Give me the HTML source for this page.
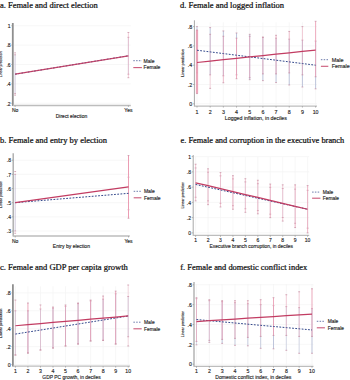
<!DOCTYPE html>
<html><head><meta charset="utf-8"><style>
html,body{margin:0;padding:0;background:#fff;width:350px;height:380px;overflow:hidden}
svg{display:block}
</style></head><body>
<svg width="350" height="380" viewBox="0 0 350 380">
<rect width="350" height="380" fill="#fff"/>
<text x="-0.1" y="7.6" font-family='"Liberation Serif", serif' font-size="8.5" fill="#111" stroke="#111" stroke-width="0.24">a. Female and direct election</text>
<line x1="13.8" y1="25.70" x2="130.8" y2="25.70" stroke="#f4f4f4" stroke-width="0.7"/>
<line x1="13.8" y1="45.10" x2="130.8" y2="45.10" stroke="#f4f4f4" stroke-width="0.7"/>
<line x1="13.8" y1="64.50" x2="130.8" y2="64.50" stroke="#f4f4f4" stroke-width="0.7"/>
<line x1="13.8" y1="83.90" x2="130.8" y2="83.90" stroke="#f4f4f4" stroke-width="0.7"/>
<line x1="13.8" y1="103.30" x2="130.8" y2="103.30" stroke="#f4f4f4" stroke-width="0.7"/>
<line x1="15.10" y1="54.80" x2="15.10" y2="93.60" stroke="#b4bcd6" stroke-width="0.6" opacity="1"/>
<line x1="14.20" y1="54.80" x2="16.00" y2="54.80" stroke="#c48a9f" stroke-width="0.7"/>
<line x1="14.20" y1="93.60" x2="16.00" y2="93.60" stroke="#c48a9f" stroke-width="0.7"/>
<line x1="128.40" y1="37.34" x2="128.40" y2="74.20" stroke="#b4bcd6" stroke-width="0.8" opacity="0.6"/>
<line x1="127.50" y1="37.34" x2="129.30" y2="37.34" stroke="#c48a9f" stroke-width="0.7"/>
<line x1="127.50" y1="74.20" x2="129.30" y2="74.20" stroke="#c48a9f" stroke-width="0.7"/>
<line x1="15.10" y1="52.86" x2="15.10" y2="95.15" stroke="#eb9db3" stroke-width="0.45" opacity="0.3"/>
<line x1="14.20" y1="52.86" x2="16.00" y2="52.86" stroke="#c48a9f" stroke-width="0.7"/>
<line x1="14.20" y1="95.15" x2="16.00" y2="95.15" stroke="#c48a9f" stroke-width="0.7"/>
<line x1="128.40" y1="32.49" x2="128.40" y2="77.69" stroke="#eb9db3" stroke-width="0.8" opacity="0.6"/>
<line x1="127.50" y1="32.49" x2="129.30" y2="32.49" stroke="#c48a9f" stroke-width="0.7"/>
<line x1="127.50" y1="77.69" x2="129.30" y2="77.69" stroke="#c48a9f" stroke-width="0.7"/>
<line x1="12.8" y1="23" x2="12.8" y2="106.0" stroke="#8f8f8f" stroke-width="1.8"/>
<line x1="12.8" y1="105.5" x2="130.8" y2="105.5" stroke="#bdbdbd" stroke-width="1.4"/>
<text x="10.600000000000001" y="27.90" text-anchor="end" font-family='"Liberation Sans", sans-serif' font-size="5" fill="#262626" stroke="#262626" stroke-width="0.14">1</text>
<line x1="11.3" y1="25.70" x2="12.8" y2="25.70" stroke="#8f8f8f" stroke-width="0.6"/>
<text x="10.600000000000001" y="47.30" text-anchor="end" font-family='"Liberation Sans", sans-serif' font-size="5" fill="#262626" stroke="#262626" stroke-width="0.14">.8</text>
<line x1="11.3" y1="45.10" x2="12.8" y2="45.10" stroke="#8f8f8f" stroke-width="0.6"/>
<text x="10.600000000000001" y="66.70" text-anchor="end" font-family='"Liberation Sans", sans-serif' font-size="5" fill="#262626" stroke="#262626" stroke-width="0.14">.6</text>
<line x1="11.3" y1="64.50" x2="12.8" y2="64.50" stroke="#8f8f8f" stroke-width="0.6"/>
<text x="10.600000000000001" y="86.10" text-anchor="end" font-family='"Liberation Sans", sans-serif' font-size="5" fill="#262626" stroke="#262626" stroke-width="0.14">.4</text>
<line x1="11.3" y1="83.90" x2="12.8" y2="83.90" stroke="#8f8f8f" stroke-width="0.6"/>
<text x="10.600000000000001" y="105.50" text-anchor="end" font-family='"Liberation Sans", sans-serif' font-size="5" fill="#262626" stroke="#262626" stroke-width="0.14">.2</text>
<line x1="11.3" y1="103.30" x2="12.8" y2="103.30" stroke="#8f8f8f" stroke-width="0.6"/>
<text x="15.10" y="112.2" text-anchor="middle" font-family='"Liberation Sans", sans-serif' font-size="5" fill="#262626" stroke="#262626" stroke-width="0.14">No</text>
<line x1="15.10" y1="105.5" x2="15.10" y2="107.0" stroke="#8f8f8f" stroke-width="0.6"/>
<text x="128.40" y="112.2" text-anchor="middle" font-family='"Liberation Sans", sans-serif' font-size="5" fill="#262626" stroke="#262626" stroke-width="0.14">Yes</text>
<line x1="128.40" y1="105.5" x2="128.40" y2="107.0" stroke="#8f8f8f" stroke-width="0.6"/>
<text x="71.5" y="118.3" text-anchor="middle" font-family='"Liberation Sans", sans-serif' font-size="4.96" fill="#262626" stroke="#262626" stroke-width="0.14">Direct election</text>
<text transform="translate(2.3,64.2) rotate(-90)" text-anchor="middle" font-family='"Liberation Sans", sans-serif' font-size="3.5" fill="#262626" stroke="#262626" stroke-width="0.14">Linear prediction</text>
<polyline points="15.10,74.20 128.40,55.77" fill="none" stroke="#34498c" stroke-width="1.0" stroke-dasharray="1.8,1.4"/>
<polyline points="15.10,74.20 128.40,55.77" fill="none" stroke="#c23c62" stroke-width="1.25" opacity="0.92"/>
<line x1="133.3" y1="60.7" x2="141.9" y2="60.7" stroke="#34498c" stroke-width="0.9" stroke-dasharray="1.5,1.3" opacity="0.8"/>
<text x="143.6" y="62.5" font-family='"Liberation Sans", sans-serif' font-size="5.05" fill="#262626" stroke="#262626" stroke-width="0.14">Male</text>
<line x1="133.3" y1="67.60000000000001" x2="141.9" y2="67.60000000000001" stroke="#c23c62" stroke-width="1.1" opacity="0.85"/>
<text x="143.6" y="69.4" font-family='"Liberation Sans", sans-serif' font-size="5.05" fill="#262626" stroke="#262626" stroke-width="0.14">Female</text>
<text x="-0.1" y="143" font-family='"Liberation Serif", serif' font-size="8.5" fill="#111" stroke="#111" stroke-width="0.24">b. Female and entry by election</text>
<line x1="14.2" y1="160.20" x2="129.8" y2="160.20" stroke="#f4f4f4" stroke-width="0.7"/>
<line x1="14.2" y1="174.36" x2="129.8" y2="174.36" stroke="#f4f4f4" stroke-width="0.7"/>
<line x1="14.2" y1="188.52" x2="129.8" y2="188.52" stroke="#f4f4f4" stroke-width="0.7"/>
<line x1="14.2" y1="202.68" x2="129.8" y2="202.68" stroke="#f4f4f4" stroke-width="0.7"/>
<line x1="14.2" y1="216.84" x2="129.8" y2="216.84" stroke="#f4f4f4" stroke-width="0.7"/>
<line x1="14.2" y1="231.00" x2="129.8" y2="231.00" stroke="#f4f4f4" stroke-width="0.7"/>
<line x1="15.20" y1="174.36" x2="15.20" y2="231.00" stroke="#b4bcd6" stroke-width="0.6" opacity="1.0"/>
<line x1="14.30" y1="174.36" x2="16.10" y2="174.36" stroke="#c48a9f" stroke-width="0.7"/>
<line x1="14.30" y1="231.00" x2="16.10" y2="231.00" stroke="#c48a9f" stroke-width="0.7"/>
<line x1="128.50" y1="177.19" x2="128.50" y2="209.76" stroke="#b4bcd6" stroke-width="1.0" opacity="1.0"/>
<line x1="127.60" y1="177.19" x2="129.40" y2="177.19" stroke="#c48a9f" stroke-width="0.7"/>
<line x1="127.60" y1="209.76" x2="129.40" y2="209.76" stroke="#c48a9f" stroke-width="0.7"/>
<line x1="15.20" y1="171.53" x2="15.20" y2="233.27" stroke="#eb9db3" stroke-width="0.45" opacity="0.3"/>
<line x1="14.30" y1="171.53" x2="16.10" y2="171.53" stroke="#c48a9f" stroke-width="0.7"/>
<line x1="14.30" y1="233.27" x2="16.10" y2="233.27" stroke="#c48a9f" stroke-width="0.7"/>
<line x1="128.50" y1="155.53" x2="128.50" y2="218.26" stroke="#eb9db3" stroke-width="1.0" opacity="1"/>
<line x1="127.60" y1="155.53" x2="129.40" y2="155.53" stroke="#c48a9f" stroke-width="0.7"/>
<line x1="127.60" y1="218.26" x2="129.40" y2="218.26" stroke="#c48a9f" stroke-width="0.7"/>
<line x1="13.2" y1="153.3" x2="13.2" y2="236.5" stroke="#ababab" stroke-width="1.4"/>
<line x1="13.2" y1="236.0" x2="129.8" y2="236.0" stroke="#bdbdbd" stroke-width="1.4"/>
<text x="11.0" y="162.40" text-anchor="end" font-family='"Liberation Sans", sans-serif' font-size="5" fill="#262626" stroke="#262626" stroke-width="0.14">.8</text>
<line x1="11.7" y1="160.20" x2="13.2" y2="160.20" stroke="#8f8f8f" stroke-width="0.6"/>
<text x="11.0" y="176.56" text-anchor="end" font-family='"Liberation Sans", sans-serif' font-size="5" fill="#262626" stroke="#262626" stroke-width="0.14">.7</text>
<line x1="11.7" y1="174.36" x2="13.2" y2="174.36" stroke="#8f8f8f" stroke-width="0.6"/>
<text x="11.0" y="190.72" text-anchor="end" font-family='"Liberation Sans", sans-serif' font-size="5" fill="#262626" stroke="#262626" stroke-width="0.14">.6</text>
<line x1="11.7" y1="188.52" x2="13.2" y2="188.52" stroke="#8f8f8f" stroke-width="0.6"/>
<text x="11.0" y="204.88" text-anchor="end" font-family='"Liberation Sans", sans-serif' font-size="5" fill="#262626" stroke="#262626" stroke-width="0.14">.5</text>
<line x1="11.7" y1="202.68" x2="13.2" y2="202.68" stroke="#8f8f8f" stroke-width="0.6"/>
<text x="11.0" y="219.04" text-anchor="end" font-family='"Liberation Sans", sans-serif' font-size="5" fill="#262626" stroke="#262626" stroke-width="0.14">.4</text>
<line x1="11.7" y1="216.84" x2="13.2" y2="216.84" stroke="#8f8f8f" stroke-width="0.6"/>
<text x="11.0" y="233.20" text-anchor="end" font-family='"Liberation Sans", sans-serif' font-size="5" fill="#262626" stroke="#262626" stroke-width="0.14">.3</text>
<line x1="11.7" y1="231.00" x2="13.2" y2="231.00" stroke="#8f8f8f" stroke-width="0.6"/>
<text x="15.20" y="243.0" text-anchor="middle" font-family='"Liberation Sans", sans-serif' font-size="5" fill="#262626" stroke="#262626" stroke-width="0.14">No</text>
<line x1="15.20" y1="236.0" x2="15.20" y2="237.5" stroke="#8f8f8f" stroke-width="0.6"/>
<text x="128.50" y="243.0" text-anchor="middle" font-family='"Liberation Sans", sans-serif' font-size="5" fill="#262626" stroke="#262626" stroke-width="0.14">Yes</text>
<line x1="128.50" y1="236.0" x2="128.50" y2="237.5" stroke="#8f8f8f" stroke-width="0.6"/>
<text x="71.4" y="248.3" text-anchor="middle" font-family='"Liberation Sans", sans-serif' font-size="5.02" fill="#262626" stroke="#262626" stroke-width="0.14">Entry by election</text>
<text transform="translate(2.3,194.7) rotate(-90)" text-anchor="middle" font-family='"Liberation Sans", sans-serif' font-size="3.65" fill="#262626" stroke="#262626" stroke-width="0.14">Linear prediction</text>
<polyline points="15.20,202.68 128.50,193.33" fill="none" stroke="#34498c" stroke-width="1.0" stroke-dasharray="1.8,1.4"/>
<polyline points="15.20,202.68 128.50,186.96" fill="none" stroke="#c23c62" stroke-width="1.25" opacity="1"/>
<line x1="133.7" y1="191.3" x2="141.4" y2="191.3" stroke="#34498c" stroke-width="0.9" stroke-dasharray="1.5,1.3" opacity="0.8"/>
<text x="143.9" y="193.10000000000002" font-family='"Liberation Sans", sans-serif' font-size="5.0" fill="#262626" stroke="#262626" stroke-width="0.14">Male</text>
<line x1="133.7" y1="197.8" x2="141.4" y2="197.8" stroke="#c23c62" stroke-width="1.1" opacity="0.85"/>
<text x="143.9" y="199.60000000000002" font-family='"Liberation Sans", sans-serif' font-size="5.0" fill="#262626" stroke="#262626" stroke-width="0.14">Female</text>
<text x="-0.1" y="269.5" font-family='"Liberation Serif", serif' font-size="8.5" fill="#111" stroke="#111" stroke-width="0.24">c. Female and GDP per capita growth</text>
<line x1="13.9" y1="292.90" x2="130" y2="292.90" stroke="#f4f4f4" stroke-width="0.7"/>
<line x1="13.9" y1="310.80" x2="130" y2="310.80" stroke="#f4f4f4" stroke-width="0.7"/>
<line x1="13.9" y1="328.70" x2="130" y2="328.70" stroke="#f4f4f4" stroke-width="0.7"/>
<line x1="13.9" y1="346.60" x2="130" y2="346.60" stroke="#f4f4f4" stroke-width="0.7"/>
<line x1="13.9" y1="364.50" x2="130" y2="364.50" stroke="#f4f4f4" stroke-width="0.7"/>
<line x1="15.40" y1="286.3" x2="15.40" y2="365.1" stroke="#f4f4f4" stroke-width="0.7"/>
<line x1="27.93" y1="286.3" x2="27.93" y2="365.1" stroke="#f4f4f4" stroke-width="0.7"/>
<line x1="40.47" y1="286.3" x2="40.47" y2="365.1" stroke="#f4f4f4" stroke-width="0.7"/>
<line x1="53.00" y1="286.3" x2="53.00" y2="365.1" stroke="#f4f4f4" stroke-width="0.7"/>
<line x1="65.53" y1="286.3" x2="65.53" y2="365.1" stroke="#f4f4f4" stroke-width="0.7"/>
<line x1="78.07" y1="286.3" x2="78.07" y2="365.1" stroke="#f4f4f4" stroke-width="0.7"/>
<line x1="90.60" y1="286.3" x2="90.60" y2="365.1" stroke="#f4f4f4" stroke-width="0.7"/>
<line x1="103.13" y1="286.3" x2="103.13" y2="365.1" stroke="#f4f4f4" stroke-width="0.7"/>
<line x1="115.67" y1="286.3" x2="115.67" y2="365.1" stroke="#f4f4f4" stroke-width="0.7"/>
<line x1="128.20" y1="286.3" x2="128.20" y2="365.1" stroke="#f4f4f4" stroke-width="0.7"/>
<line x1="15.40" y1="310.80" x2="15.40" y2="355.01" stroke="#b4bcd6" stroke-width="0.85" opacity="0.6"/>
<line x1="14.50" y1="310.80" x2="16.30" y2="310.80" stroke="#c48a9f" stroke-width="0.7"/>
<line x1="14.50" y1="355.01" x2="16.30" y2="355.01" stroke="#c48a9f" stroke-width="0.7"/>
<line x1="27.93" y1="310.80" x2="27.93" y2="353.04" stroke="#b4bcd6" stroke-width="0.85" opacity="1"/>
<line x1="27.03" y1="310.80" x2="28.83" y2="310.80" stroke="#c48a9f" stroke-width="0.7"/>
<line x1="27.03" y1="353.04" x2="28.83" y2="353.04" stroke="#c48a9f" stroke-width="0.7"/>
<line x1="40.47" y1="309.01" x2="40.47" y2="350.00" stroke="#b4bcd6" stroke-width="0.85" opacity="0.6"/>
<line x1="39.57" y1="309.01" x2="41.37" y2="309.01" stroke="#c48a9f" stroke-width="0.7"/>
<line x1="39.57" y1="350.00" x2="41.37" y2="350.00" stroke="#c48a9f" stroke-width="0.7"/>
<line x1="53.00" y1="308.12" x2="53.00" y2="348.03" stroke="#b4bcd6" stroke-width="0.85" opacity="1"/>
<line x1="52.10" y1="308.12" x2="53.90" y2="308.12" stroke="#c48a9f" stroke-width="0.7"/>
<line x1="52.10" y1="348.03" x2="53.90" y2="348.03" stroke="#c48a9f" stroke-width="0.7"/>
<line x1="65.53" y1="306.32" x2="65.53" y2="345.97" stroke="#b4bcd6" stroke-width="0.85" opacity="1"/>
<line x1="64.63" y1="306.32" x2="66.43" y2="306.32" stroke="#c48a9f" stroke-width="0.7"/>
<line x1="64.63" y1="345.97" x2="66.43" y2="345.97" stroke="#c48a9f" stroke-width="0.7"/>
<line x1="78.07" y1="303.64" x2="78.07" y2="344.00" stroke="#b4bcd6" stroke-width="0.85" opacity="1"/>
<line x1="77.17" y1="303.64" x2="78.97" y2="303.64" stroke="#c48a9f" stroke-width="0.7"/>
<line x1="77.17" y1="344.00" x2="78.97" y2="344.00" stroke="#c48a9f" stroke-width="0.7"/>
<line x1="90.60" y1="300.95" x2="90.60" y2="340.96" stroke="#b4bcd6" stroke-width="0.85" opacity="1"/>
<line x1="89.70" y1="300.95" x2="91.50" y2="300.95" stroke="#c48a9f" stroke-width="0.7"/>
<line x1="89.70" y1="340.96" x2="91.50" y2="340.96" stroke="#c48a9f" stroke-width="0.7"/>
<line x1="103.13" y1="299.16" x2="103.13" y2="340.33" stroke="#b4bcd6" stroke-width="0.85" opacity="1"/>
<line x1="102.23" y1="299.16" x2="104.03" y2="299.16" stroke="#c48a9f" stroke-width="0.7"/>
<line x1="102.23" y1="340.33" x2="104.03" y2="340.33" stroke="#c48a9f" stroke-width="0.7"/>
<line x1="115.67" y1="293.79" x2="115.67" y2="344.00" stroke="#b4bcd6" stroke-width="0.85" opacity="1"/>
<line x1="114.77" y1="293.79" x2="116.57" y2="293.79" stroke="#c48a9f" stroke-width="0.7"/>
<line x1="114.77" y1="344.00" x2="116.57" y2="344.00" stroke="#c48a9f" stroke-width="0.7"/>
<line x1="128.20" y1="296.48" x2="128.20" y2="336.75" stroke="#b4bcd6" stroke-width="0.85" opacity="0.6"/>
<line x1="127.30" y1="296.48" x2="129.10" y2="296.48" stroke="#c48a9f" stroke-width="0.7"/>
<line x1="127.30" y1="336.75" x2="129.10" y2="336.75" stroke="#c48a9f" stroke-width="0.7"/>
<line x1="15.40" y1="300.06" x2="15.40" y2="355.01" stroke="#eb9db3" stroke-width="0.85" opacity="0.35"/>
<line x1="14.50" y1="300.06" x2="16.30" y2="300.06" stroke="#c48a9f" stroke-width="0.7"/>
<line x1="14.50" y1="355.01" x2="16.30" y2="355.01" stroke="#c48a9f" stroke-width="0.7"/>
<line x1="27.93" y1="303.01" x2="27.93" y2="353.04" stroke="#eb9db3" stroke-width="0.85" opacity="1"/>
<line x1="27.03" y1="303.01" x2="28.83" y2="303.01" stroke="#c48a9f" stroke-width="0.7"/>
<line x1="27.03" y1="353.04" x2="28.83" y2="353.04" stroke="#c48a9f" stroke-width="0.7"/>
<line x1="40.47" y1="304.98" x2="40.47" y2="350.00" stroke="#eb9db3" stroke-width="0.85" opacity="0.45"/>
<line x1="39.57" y1="304.98" x2="41.37" y2="304.98" stroke="#c48a9f" stroke-width="0.7"/>
<line x1="39.57" y1="350.00" x2="41.37" y2="350.00" stroke="#c48a9f" stroke-width="0.7"/>
<line x1="53.00" y1="307.04" x2="53.00" y2="348.03" stroke="#eb9db3" stroke-width="0.85" opacity="0.8"/>
<line x1="52.10" y1="307.04" x2="53.90" y2="307.04" stroke="#c48a9f" stroke-width="0.7"/>
<line x1="52.10" y1="348.03" x2="53.90" y2="348.03" stroke="#c48a9f" stroke-width="0.7"/>
<line x1="65.53" y1="304.98" x2="65.53" y2="345.97" stroke="#eb9db3" stroke-width="0.85" opacity="0.8"/>
<line x1="64.63" y1="304.98" x2="66.43" y2="304.98" stroke="#c48a9f" stroke-width="0.7"/>
<line x1="64.63" y1="345.97" x2="66.43" y2="345.97" stroke="#c48a9f" stroke-width="0.7"/>
<line x1="78.07" y1="303.01" x2="78.07" y2="344.00" stroke="#eb9db3" stroke-width="0.85" opacity="0.8"/>
<line x1="77.17" y1="303.01" x2="78.97" y2="303.01" stroke="#c48a9f" stroke-width="0.7"/>
<line x1="77.17" y1="344.00" x2="78.97" y2="344.00" stroke="#c48a9f" stroke-width="0.7"/>
<line x1="90.60" y1="300.06" x2="90.60" y2="340.96" stroke="#eb9db3" stroke-width="0.85" opacity="1"/>
<line x1="89.70" y1="300.06" x2="91.50" y2="300.06" stroke="#c48a9f" stroke-width="0.7"/>
<line x1="89.70" y1="340.96" x2="91.50" y2="340.96" stroke="#c48a9f" stroke-width="0.7"/>
<line x1="103.13" y1="296.03" x2="103.13" y2="340.33" stroke="#eb9db3" stroke-width="0.85" opacity="0.8"/>
<line x1="102.23" y1="296.03" x2="104.03" y2="296.03" stroke="#c48a9f" stroke-width="0.7"/>
<line x1="102.23" y1="340.33" x2="104.03" y2="340.33" stroke="#c48a9f" stroke-width="0.7"/>
<line x1="115.67" y1="291.11" x2="115.67" y2="344.00" stroke="#eb9db3" stroke-width="0.85" opacity="1"/>
<line x1="114.77" y1="291.11" x2="116.57" y2="291.11" stroke="#c48a9f" stroke-width="0.7"/>
<line x1="114.77" y1="344.00" x2="116.57" y2="344.00" stroke="#c48a9f" stroke-width="0.7"/>
<line x1="128.20" y1="285.02" x2="128.20" y2="345.97" stroke="#eb9db3" stroke-width="0.85" opacity="0.4"/>
<line x1="127.30" y1="285.02" x2="129.10" y2="285.02" stroke="#c48a9f" stroke-width="0.7"/>
<line x1="127.30" y1="345.97" x2="129.10" y2="345.97" stroke="#c48a9f" stroke-width="0.7"/>
<line x1="12.9" y1="284.3" x2="12.9" y2="366.6" stroke="#8f8f8f" stroke-width="1.8"/>
<line x1="12.9" y1="366.1" x2="130" y2="366.1" stroke="#bdbdbd" stroke-width="1.2"/>
<text x="10.7" y="295.10" text-anchor="end" font-family='"Liberation Sans", sans-serif' font-size="5.2" fill="#262626" stroke="#262626" stroke-width="0.14">.8</text>
<line x1="11.4" y1="292.90" x2="12.9" y2="292.90" stroke="#8f8f8f" stroke-width="0.6"/>
<text x="10.7" y="313.00" text-anchor="end" font-family='"Liberation Sans", sans-serif' font-size="5.2" fill="#262626" stroke="#262626" stroke-width="0.14">.6</text>
<line x1="11.4" y1="310.80" x2="12.9" y2="310.80" stroke="#8f8f8f" stroke-width="0.6"/>
<text x="10.7" y="330.90" text-anchor="end" font-family='"Liberation Sans", sans-serif' font-size="5.2" fill="#262626" stroke="#262626" stroke-width="0.14">.4</text>
<line x1="11.4" y1="328.70" x2="12.9" y2="328.70" stroke="#8f8f8f" stroke-width="0.6"/>
<text x="10.7" y="348.80" text-anchor="end" font-family='"Liberation Sans", sans-serif' font-size="5.2" fill="#262626" stroke="#262626" stroke-width="0.14">.2</text>
<line x1="11.4" y1="346.60" x2="12.9" y2="346.60" stroke="#8f8f8f" stroke-width="0.6"/>
<text x="10.7" y="366.70" text-anchor="end" font-family='"Liberation Sans", sans-serif' font-size="5.2" fill="#262626" stroke="#262626" stroke-width="0.14">0</text>
<line x1="11.4" y1="364.50" x2="12.9" y2="364.50" stroke="#8f8f8f" stroke-width="0.6"/>
<text x="15.40" y="372.6" text-anchor="middle" font-family='"Liberation Sans", sans-serif' font-size="5.2" fill="#262626" stroke="#262626" stroke-width="0.14">1</text>
<line x1="15.40" y1="366.1" x2="15.40" y2="367.6" stroke="#8f8f8f" stroke-width="0.6"/>
<text x="27.93" y="372.6" text-anchor="middle" font-family='"Liberation Sans", sans-serif' font-size="5.2" fill="#262626" stroke="#262626" stroke-width="0.14">2</text>
<line x1="27.93" y1="366.1" x2="27.93" y2="367.6" stroke="#8f8f8f" stroke-width="0.6"/>
<text x="40.47" y="372.6" text-anchor="middle" font-family='"Liberation Sans", sans-serif' font-size="5.2" fill="#262626" stroke="#262626" stroke-width="0.14">3</text>
<line x1="40.47" y1="366.1" x2="40.47" y2="367.6" stroke="#8f8f8f" stroke-width="0.6"/>
<text x="53.00" y="372.6" text-anchor="middle" font-family='"Liberation Sans", sans-serif' font-size="5.2" fill="#262626" stroke="#262626" stroke-width="0.14">4</text>
<line x1="53.00" y1="366.1" x2="53.00" y2="367.6" stroke="#8f8f8f" stroke-width="0.6"/>
<text x="65.53" y="372.6" text-anchor="middle" font-family='"Liberation Sans", sans-serif' font-size="5.2" fill="#262626" stroke="#262626" stroke-width="0.14">5</text>
<line x1="65.53" y1="366.1" x2="65.53" y2="367.6" stroke="#8f8f8f" stroke-width="0.6"/>
<text x="78.07" y="372.6" text-anchor="middle" font-family='"Liberation Sans", sans-serif' font-size="5.2" fill="#262626" stroke="#262626" stroke-width="0.14">6</text>
<line x1="78.07" y1="366.1" x2="78.07" y2="367.6" stroke="#8f8f8f" stroke-width="0.6"/>
<text x="90.60" y="372.6" text-anchor="middle" font-family='"Liberation Sans", sans-serif' font-size="5.2" fill="#262626" stroke="#262626" stroke-width="0.14">7</text>
<line x1="90.60" y1="366.1" x2="90.60" y2="367.6" stroke="#8f8f8f" stroke-width="0.6"/>
<text x="103.13" y="372.6" text-anchor="middle" font-family='"Liberation Sans", sans-serif' font-size="5.2" fill="#262626" stroke="#262626" stroke-width="0.14">8</text>
<line x1="103.13" y1="366.1" x2="103.13" y2="367.6" stroke="#8f8f8f" stroke-width="0.6"/>
<text x="115.67" y="372.6" text-anchor="middle" font-family='"Liberation Sans", sans-serif' font-size="5.2" fill="#262626" stroke="#262626" stroke-width="0.14">9</text>
<line x1="115.67" y1="366.1" x2="115.67" y2="367.6" stroke="#8f8f8f" stroke-width="0.6"/>
<text x="128.20" y="372.6" text-anchor="middle" font-family='"Liberation Sans", sans-serif' font-size="5.2" fill="#262626" stroke="#262626" stroke-width="0.14">10</text>
<line x1="128.20" y1="366.1" x2="128.20" y2="367.6" stroke="#8f8f8f" stroke-width="0.6"/>
<text x="71.5" y="378.6" text-anchor="middle" font-family='"Liberation Sans", sans-serif' font-size="4.94" fill="#262626" stroke="#262626" stroke-width="0.14">GDP PC growth, in deciles</text>
<text transform="translate(2.2,323.4) rotate(-90)" text-anchor="middle" font-family='"Liberation Sans", sans-serif' font-size="4.05" fill="#262626" stroke="#262626" stroke-width="0.14">Linear prediction</text>
<polyline points="15.40,334.07 27.93,332.06 40.47,330.05 53.00,328.04 65.53,326.03 78.07,324.03 90.60,322.02 103.13,320.01 115.67,318.00 128.20,315.99" fill="none" stroke="#34498c" stroke-width="1.0" stroke-dasharray="1.8,1.4"/>
<polyline points="15.40,325.75 27.93,324.66 40.47,323.58 53.00,322.49 65.53,321.41 78.07,320.33 90.60,319.24 103.13,318.16 115.67,317.07 128.20,315.99" fill="none" stroke="#c23c62" stroke-width="1.25" opacity="1"/>
<line x1="133.4" y1="322.2" x2="141.7" y2="322.2" stroke="#34498c" stroke-width="0.9" stroke-dasharray="1.5,1.3" opacity="0.8"/>
<text x="144" y="324.0" font-family='"Liberation Sans", sans-serif' font-size="4.9" fill="#262626" stroke="#262626" stroke-width="0.14">Male</text>
<line x1="133.4" y1="328.8" x2="141.7" y2="328.8" stroke="#c23c62" stroke-width="1.1" opacity="0.85"/>
<text x="144" y="330.6" font-family='"Liberation Sans", sans-serif' font-size="4.9" fill="#262626" stroke="#262626" stroke-width="0.14">Female</text>
<text x="180.0" y="8.1" font-family='"Liberation Serif", serif' font-size="8.5" fill="#111" stroke="#111" stroke-width="0.24">d. Female and logged inflation</text>
<line x1="195.4" y1="26.60" x2="317" y2="26.60" stroke="#f4f4f4" stroke-width="0.7"/>
<line x1="195.4" y1="45.90" x2="317" y2="45.90" stroke="#f4f4f4" stroke-width="0.7"/>
<line x1="195.4" y1="65.20" x2="317" y2="65.20" stroke="#f4f4f4" stroke-width="0.7"/>
<line x1="195.4" y1="84.50" x2="317" y2="84.50" stroke="#f4f4f4" stroke-width="0.7"/>
<line x1="195.4" y1="103.80" x2="317" y2="103.80" stroke="#f4f4f4" stroke-width="0.7"/>
<line x1="197.00" y1="22.3" x2="197.00" y2="105.1" stroke="#f4f4f4" stroke-width="0.7"/>
<line x1="210.18" y1="22.3" x2="210.18" y2="105.1" stroke="#f4f4f4" stroke-width="0.7"/>
<line x1="223.36" y1="22.3" x2="223.36" y2="105.1" stroke="#f4f4f4" stroke-width="0.7"/>
<line x1="236.53" y1="22.3" x2="236.53" y2="105.1" stroke="#f4f4f4" stroke-width="0.7"/>
<line x1="249.71" y1="22.3" x2="249.71" y2="105.1" stroke="#f4f4f4" stroke-width="0.7"/>
<line x1="262.89" y1="22.3" x2="262.89" y2="105.1" stroke="#f4f4f4" stroke-width="0.7"/>
<line x1="276.07" y1="22.3" x2="276.07" y2="105.1" stroke="#f4f4f4" stroke-width="0.7"/>
<line x1="289.24" y1="22.3" x2="289.24" y2="105.1" stroke="#f4f4f4" stroke-width="0.7"/>
<line x1="302.42" y1="22.3" x2="302.42" y2="105.1" stroke="#f4f4f4" stroke-width="0.7"/>
<line x1="315.60" y1="22.3" x2="315.60" y2="105.1" stroke="#f4f4f4" stroke-width="0.7"/>
<line x1="197.00" y1="26.60" x2="197.00" y2="72.92" stroke="#b4bcd6" stroke-width="0.85" opacity="1.0"/>
<line x1="196.10" y1="26.60" x2="197.90" y2="26.60" stroke="#c48a9f" stroke-width="0.7"/>
<line x1="196.10" y1="72.92" x2="197.90" y2="72.92" stroke="#c48a9f" stroke-width="0.7"/>
<line x1="210.18" y1="27.57" x2="210.18" y2="74.85" stroke="#b4bcd6" stroke-width="0.85" opacity="1.0"/>
<line x1="209.28" y1="27.57" x2="211.08" y2="27.57" stroke="#c48a9f" stroke-width="0.7"/>
<line x1="209.28" y1="74.85" x2="211.08" y2="74.85" stroke="#c48a9f" stroke-width="0.7"/>
<line x1="223.36" y1="30.94" x2="223.36" y2="75.81" stroke="#b4bcd6" stroke-width="0.85" opacity="1.0"/>
<line x1="222.46" y1="30.94" x2="224.26" y2="30.94" stroke="#c48a9f" stroke-width="0.7"/>
<line x1="222.46" y1="75.81" x2="224.26" y2="75.81" stroke="#c48a9f" stroke-width="0.7"/>
<line x1="236.53" y1="32.97" x2="236.53" y2="74.85" stroke="#b4bcd6" stroke-width="0.85" opacity="1.0"/>
<line x1="235.63" y1="32.97" x2="237.43" y2="32.97" stroke="#c48a9f" stroke-width="0.7"/>
<line x1="235.63" y1="74.85" x2="237.43" y2="74.85" stroke="#c48a9f" stroke-width="0.7"/>
<line x1="249.71" y1="34.32" x2="249.71" y2="79.67" stroke="#b4bcd6" stroke-width="0.85" opacity="1.0"/>
<line x1="248.81" y1="34.32" x2="250.61" y2="34.32" stroke="#c48a9f" stroke-width="0.7"/>
<line x1="248.81" y1="79.67" x2="250.61" y2="79.67" stroke="#c48a9f" stroke-width="0.7"/>
<line x1="262.89" y1="37.22" x2="262.89" y2="80.64" stroke="#b4bcd6" stroke-width="0.85" opacity="1.0"/>
<line x1="261.99" y1="37.22" x2="263.79" y2="37.22" stroke="#c48a9f" stroke-width="0.7"/>
<line x1="261.99" y1="80.64" x2="263.79" y2="80.64" stroke="#c48a9f" stroke-width="0.7"/>
<line x1="276.07" y1="38.18" x2="276.07" y2="82.57" stroke="#b4bcd6" stroke-width="0.85" opacity="1.0"/>
<line x1="275.17" y1="38.18" x2="276.97" y2="38.18" stroke="#c48a9f" stroke-width="0.7"/>
<line x1="275.17" y1="82.57" x2="276.97" y2="82.57" stroke="#c48a9f" stroke-width="0.7"/>
<line x1="289.24" y1="39.14" x2="289.24" y2="84.98" stroke="#b4bcd6" stroke-width="0.85" opacity="1.0"/>
<line x1="288.34" y1="39.14" x2="290.14" y2="39.14" stroke="#c48a9f" stroke-width="0.7"/>
<line x1="288.34" y1="84.98" x2="290.14" y2="84.98" stroke="#c48a9f" stroke-width="0.7"/>
<line x1="302.42" y1="40.11" x2="302.42" y2="87.01" stroke="#b4bcd6" stroke-width="0.85" opacity="1.0"/>
<line x1="301.52" y1="40.11" x2="303.32" y2="40.11" stroke="#c48a9f" stroke-width="0.7"/>
<line x1="301.52" y1="87.01" x2="303.32" y2="87.01" stroke="#c48a9f" stroke-width="0.7"/>
<line x1="315.60" y1="41.08" x2="315.60" y2="88.84" stroke="#b4bcd6" stroke-width="0.85" opacity="1.0"/>
<line x1="314.70" y1="41.08" x2="316.50" y2="41.08" stroke="#c48a9f" stroke-width="0.7"/>
<line x1="314.70" y1="88.84" x2="316.50" y2="88.84" stroke="#c48a9f" stroke-width="0.7"/>
<line x1="197.00" y1="29.98" x2="197.00" y2="93.57" stroke="#eb9db3" stroke-width="2.2" opacity="0.9"/>
<line x1="196.10" y1="29.98" x2="197.90" y2="29.98" stroke="#c48a9f" stroke-width="0.7"/>
<line x1="196.10" y1="93.57" x2="197.90" y2="93.57" stroke="#c48a9f" stroke-width="0.7"/>
<line x1="210.18" y1="34.32" x2="210.18" y2="88.36" stroke="#eb9db3" stroke-width="0.85" opacity="0.45"/>
<line x1="209.28" y1="34.32" x2="211.08" y2="34.32" stroke="#c48a9f" stroke-width="0.7"/>
<line x1="209.28" y1="88.36" x2="211.08" y2="88.36" stroke="#c48a9f" stroke-width="0.7"/>
<line x1="223.36" y1="36.25" x2="223.36" y2="82.76" stroke="#eb9db3" stroke-width="0.85" opacity="0.75"/>
<line x1="222.46" y1="36.25" x2="224.26" y2="36.25" stroke="#c48a9f" stroke-width="0.7"/>
<line x1="222.46" y1="82.76" x2="224.26" y2="82.76" stroke="#c48a9f" stroke-width="0.7"/>
<line x1="236.53" y1="38.18" x2="236.53" y2="78.71" stroke="#eb9db3" stroke-width="0.85" opacity="1"/>
<line x1="235.63" y1="38.18" x2="237.43" y2="38.18" stroke="#c48a9f" stroke-width="0.7"/>
<line x1="235.63" y1="78.71" x2="237.43" y2="78.71" stroke="#c48a9f" stroke-width="0.7"/>
<line x1="249.71" y1="36.25" x2="249.71" y2="77.75" stroke="#eb9db3" stroke-width="0.85" opacity="0.75"/>
<line x1="248.81" y1="36.25" x2="250.61" y2="36.25" stroke="#c48a9f" stroke-width="0.7"/>
<line x1="248.81" y1="77.75" x2="250.61" y2="77.75" stroke="#c48a9f" stroke-width="0.7"/>
<line x1="262.89" y1="37.22" x2="262.89" y2="73.88" stroke="#eb9db3" stroke-width="0.85" opacity="0.75"/>
<line x1="261.99" y1="37.22" x2="263.79" y2="37.22" stroke="#c48a9f" stroke-width="0.7"/>
<line x1="261.99" y1="73.88" x2="263.79" y2="73.88" stroke="#c48a9f" stroke-width="0.7"/>
<line x1="276.07" y1="35.29" x2="276.07" y2="73.88" stroke="#eb9db3" stroke-width="0.85" opacity="0.85"/>
<line x1="275.17" y1="35.29" x2="276.97" y2="35.29" stroke="#c48a9f" stroke-width="0.7"/>
<line x1="275.17" y1="73.88" x2="276.97" y2="73.88" stroke="#c48a9f" stroke-width="0.7"/>
<line x1="289.24" y1="31.43" x2="289.24" y2="72.92" stroke="#eb9db3" stroke-width="0.85" opacity="0.75"/>
<line x1="288.34" y1="31.43" x2="290.14" y2="31.43" stroke="#c48a9f" stroke-width="0.7"/>
<line x1="288.34" y1="72.92" x2="290.14" y2="72.92" stroke="#c48a9f" stroke-width="0.7"/>
<line x1="302.42" y1="26.60" x2="302.42" y2="74.85" stroke="#eb9db3" stroke-width="0.85" opacity="0.6"/>
<line x1="301.52" y1="26.60" x2="303.32" y2="26.60" stroke="#c48a9f" stroke-width="0.7"/>
<line x1="301.52" y1="74.85" x2="303.32" y2="74.85" stroke="#c48a9f" stroke-width="0.7"/>
<line x1="315.60" y1="21.29" x2="315.60" y2="76.78" stroke="#eb9db3" stroke-width="0.85" opacity="1"/>
<line x1="314.70" y1="21.29" x2="316.50" y2="21.29" stroke="#c48a9f" stroke-width="0.7"/>
<line x1="314.70" y1="76.78" x2="316.50" y2="76.78" stroke="#c48a9f" stroke-width="0.7"/>
<line x1="194.4" y1="20.3" x2="194.4" y2="106.6" stroke="#a8a8a8" stroke-width="1.0"/>
<line x1="194.4" y1="106.1" x2="317" y2="106.1" stroke="#bdbdbd" stroke-width="1.2"/>
<text x="192.20000000000002" y="28.80" text-anchor="end" font-family='"Liberation Sans", sans-serif' font-size="5.3" fill="#262626" stroke="#262626" stroke-width="0.14">.8</text>
<line x1="192.9" y1="26.60" x2="194.4" y2="26.60" stroke="#8f8f8f" stroke-width="0.6"/>
<text x="192.20000000000002" y="48.10" text-anchor="end" font-family='"Liberation Sans", sans-serif' font-size="5.3" fill="#262626" stroke="#262626" stroke-width="0.14">.6</text>
<line x1="192.9" y1="45.90" x2="194.4" y2="45.90" stroke="#8f8f8f" stroke-width="0.6"/>
<text x="192.20000000000002" y="67.40" text-anchor="end" font-family='"Liberation Sans", sans-serif' font-size="5.3" fill="#262626" stroke="#262626" stroke-width="0.14">.4</text>
<line x1="192.9" y1="65.20" x2="194.4" y2="65.20" stroke="#8f8f8f" stroke-width="0.6"/>
<text x="192.20000000000002" y="86.70" text-anchor="end" font-family='"Liberation Sans", sans-serif' font-size="5.3" fill="#262626" stroke="#262626" stroke-width="0.14">.2</text>
<line x1="192.9" y1="84.50" x2="194.4" y2="84.50" stroke="#8f8f8f" stroke-width="0.6"/>
<text x="192.20000000000002" y="106.00" text-anchor="end" font-family='"Liberation Sans", sans-serif' font-size="5.3" fill="#262626" stroke="#262626" stroke-width="0.14">0</text>
<line x1="192.9" y1="103.80" x2="194.4" y2="103.80" stroke="#8f8f8f" stroke-width="0.6"/>
<text x="197.00" y="113.7" text-anchor="middle" font-family='"Liberation Sans", sans-serif' font-size="5.3" fill="#262626" stroke="#262626" stroke-width="0.14">1</text>
<line x1="197.00" y1="106.1" x2="197.00" y2="107.6" stroke="#8f8f8f" stroke-width="0.6"/>
<text x="210.18" y="113.7" text-anchor="middle" font-family='"Liberation Sans", sans-serif' font-size="5.3" fill="#262626" stroke="#262626" stroke-width="0.14">2</text>
<line x1="210.18" y1="106.1" x2="210.18" y2="107.6" stroke="#8f8f8f" stroke-width="0.6"/>
<text x="223.36" y="113.7" text-anchor="middle" font-family='"Liberation Sans", sans-serif' font-size="5.3" fill="#262626" stroke="#262626" stroke-width="0.14">3</text>
<line x1="223.36" y1="106.1" x2="223.36" y2="107.6" stroke="#8f8f8f" stroke-width="0.6"/>
<text x="236.53" y="113.7" text-anchor="middle" font-family='"Liberation Sans", sans-serif' font-size="5.3" fill="#262626" stroke="#262626" stroke-width="0.14">4</text>
<line x1="236.53" y1="106.1" x2="236.53" y2="107.6" stroke="#8f8f8f" stroke-width="0.6"/>
<text x="249.71" y="113.7" text-anchor="middle" font-family='"Liberation Sans", sans-serif' font-size="5.3" fill="#262626" stroke="#262626" stroke-width="0.14">5</text>
<line x1="249.71" y1="106.1" x2="249.71" y2="107.6" stroke="#8f8f8f" stroke-width="0.6"/>
<text x="262.89" y="113.7" text-anchor="middle" font-family='"Liberation Sans", sans-serif' font-size="5.3" fill="#262626" stroke="#262626" stroke-width="0.14">6</text>
<line x1="262.89" y1="106.1" x2="262.89" y2="107.6" stroke="#8f8f8f" stroke-width="0.6"/>
<text x="276.07" y="113.7" text-anchor="middle" font-family='"Liberation Sans", sans-serif' font-size="5.3" fill="#262626" stroke="#262626" stroke-width="0.14">7</text>
<line x1="276.07" y1="106.1" x2="276.07" y2="107.6" stroke="#8f8f8f" stroke-width="0.6"/>
<text x="289.24" y="113.7" text-anchor="middle" font-family='"Liberation Sans", sans-serif' font-size="5.3" fill="#262626" stroke="#262626" stroke-width="0.14">8</text>
<line x1="289.24" y1="106.1" x2="289.24" y2="107.6" stroke="#8f8f8f" stroke-width="0.6"/>
<text x="302.42" y="113.7" text-anchor="middle" font-family='"Liberation Sans", sans-serif' font-size="5.3" fill="#262626" stroke="#262626" stroke-width="0.14">9</text>
<line x1="302.42" y1="106.1" x2="302.42" y2="107.6" stroke="#8f8f8f" stroke-width="0.6"/>
<text x="315.60" y="113.7" text-anchor="middle" font-family='"Liberation Sans", sans-serif' font-size="5.3" fill="#262626" stroke="#262626" stroke-width="0.14">10</text>
<line x1="315.60" y1="106.1" x2="315.60" y2="107.6" stroke="#8f8f8f" stroke-width="0.6"/>
<text x="255.9" y="119.6" text-anchor="middle" font-family='"Liberation Sans", sans-serif' font-size="5.27" fill="#262626" stroke="#262626" stroke-width="0.14">Logged inflation, in deciles</text>
<text transform="translate(184.0,63) rotate(-90)" text-anchor="middle" font-family='"Liberation Sans", sans-serif' font-size="3.73" fill="#262626" stroke="#262626" stroke-width="0.14">Linear prediction</text>
<polyline points="197.00,50.24 210.18,51.90 223.36,53.57 236.53,55.23 249.71,56.89 262.89,58.55 276.07,60.21 289.24,61.88 302.42,63.54 315.60,65.20" fill="none" stroke="#34498c" stroke-width="1.0" stroke-dasharray="1.8,1.4"/>
<polyline points="197.00,62.50 210.18,61.11 223.36,59.73 236.53,58.35 249.71,56.97 262.89,55.58 276.07,54.20 289.24,52.82 302.42,51.43 315.60,50.05" fill="none" stroke="#c23c62" stroke-width="1.25" opacity="1"/>
<line x1="320.9" y1="59.7" x2="328.3" y2="59.7" stroke="#34498c" stroke-width="0.9" stroke-dasharray="1.5,1.3" opacity="0.8"/>
<text x="331.7" y="61.5" font-family='"Liberation Sans", sans-serif' font-size="5.45" fill="#262626" stroke="#262626" stroke-width="0.14">Male</text>
<line x1="320.9" y1="66.3" x2="328.3" y2="66.3" stroke="#c23c62" stroke-width="1.1" opacity="0.85"/>
<text x="331.7" y="68.1" font-family='"Liberation Sans", sans-serif' font-size="5.45" fill="#262626" stroke="#262626" stroke-width="0.14">Female</text>
<text x="180.5" y="142.9" font-family='"Liberation Serif", serif' font-size="8.38" fill="#111" stroke="#111" stroke-width="0.24">e. Female and corruption in the executive branch</text>
<line x1="194.2" y1="156.60" x2="309.2" y2="156.60" stroke="#f4f4f4" stroke-width="0.7"/>
<line x1="194.2" y1="171.86" x2="309.2" y2="171.86" stroke="#f4f4f4" stroke-width="0.7"/>
<line x1="194.2" y1="187.12" x2="309.2" y2="187.12" stroke="#f4f4f4" stroke-width="0.7"/>
<line x1="194.2" y1="202.38" x2="309.2" y2="202.38" stroke="#f4f4f4" stroke-width="0.7"/>
<line x1="194.2" y1="217.64" x2="309.2" y2="217.64" stroke="#f4f4f4" stroke-width="0.7"/>
<line x1="194.2" y1="232.90" x2="309.2" y2="232.90" stroke="#f4f4f4" stroke-width="0.7"/>
<line x1="195.60" y1="157" x2="195.60" y2="234.4" stroke="#f4f4f4" stroke-width="0.7"/>
<line x1="208.04" y1="157" x2="208.04" y2="234.4" stroke="#f4f4f4" stroke-width="0.7"/>
<line x1="220.49" y1="157" x2="220.49" y2="234.4" stroke="#f4f4f4" stroke-width="0.7"/>
<line x1="232.93" y1="157" x2="232.93" y2="234.4" stroke="#f4f4f4" stroke-width="0.7"/>
<line x1="245.38" y1="157" x2="245.38" y2="234.4" stroke="#f4f4f4" stroke-width="0.7"/>
<line x1="257.82" y1="157" x2="257.82" y2="234.4" stroke="#f4f4f4" stroke-width="0.7"/>
<line x1="270.27" y1="157" x2="270.27" y2="234.4" stroke="#f4f4f4" stroke-width="0.7"/>
<line x1="282.71" y1="157" x2="282.71" y2="234.4" stroke="#f4f4f4" stroke-width="0.7"/>
<line x1="295.16" y1="157" x2="295.16" y2="234.4" stroke="#f4f4f4" stroke-width="0.7"/>
<line x1="307.60" y1="157" x2="307.60" y2="234.4" stroke="#f4f4f4" stroke-width="0.7"/>
<line x1="195.60" y1="167.94" x2="195.60" y2="197.24" stroke="#b4bcd6" stroke-width="0.85" opacity="0.25"/>
<line x1="194.70" y1="167.94" x2="196.50" y2="167.94" stroke="#c48a9f" stroke-width="0.7"/>
<line x1="194.70" y1="197.24" x2="196.50" y2="197.24" stroke="#c48a9f" stroke-width="0.7"/>
<line x1="208.04" y1="172.19" x2="208.04" y2="200.88" stroke="#b4bcd6" stroke-width="0.85" opacity="0.25"/>
<line x1="207.14" y1="172.19" x2="208.94" y2="172.19" stroke="#c48a9f" stroke-width="0.7"/>
<line x1="207.14" y1="200.88" x2="208.94" y2="200.88" stroke="#c48a9f" stroke-width="0.7"/>
<line x1="220.49" y1="175.83" x2="220.49" y2="203.30" stroke="#b4bcd6" stroke-width="0.85" opacity="0.25"/>
<line x1="219.59" y1="175.83" x2="221.39" y2="175.83" stroke="#c48a9f" stroke-width="0.7"/>
<line x1="219.59" y1="203.30" x2="221.39" y2="203.30" stroke="#c48a9f" stroke-width="0.7"/>
<line x1="232.93" y1="178.86" x2="232.93" y2="205.72" stroke="#b4bcd6" stroke-width="0.85" opacity="0.25"/>
<line x1="232.03" y1="178.86" x2="233.83" y2="178.86" stroke="#c48a9f" stroke-width="0.7"/>
<line x1="232.03" y1="205.72" x2="233.83" y2="205.72" stroke="#c48a9f" stroke-width="0.7"/>
<line x1="245.38" y1="181.89" x2="245.38" y2="208.75" stroke="#b4bcd6" stroke-width="0.85" opacity="0.25"/>
<line x1="244.48" y1="181.89" x2="246.28" y2="181.89" stroke="#c48a9f" stroke-width="0.7"/>
<line x1="244.48" y1="208.75" x2="246.28" y2="208.75" stroke="#c48a9f" stroke-width="0.7"/>
<line x1="257.82" y1="183.70" x2="257.82" y2="210.56" stroke="#b4bcd6" stroke-width="0.85" opacity="0.25"/>
<line x1="256.92" y1="183.70" x2="258.72" y2="183.70" stroke="#c48a9f" stroke-width="0.7"/>
<line x1="256.92" y1="210.56" x2="258.72" y2="210.56" stroke="#c48a9f" stroke-width="0.7"/>
<line x1="270.27" y1="187.34" x2="270.27" y2="214.20" stroke="#b4bcd6" stroke-width="0.85" opacity="0.25"/>
<line x1="269.37" y1="187.34" x2="271.17" y2="187.34" stroke="#c48a9f" stroke-width="0.7"/>
<line x1="269.37" y1="214.20" x2="271.17" y2="214.20" stroke="#c48a9f" stroke-width="0.7"/>
<line x1="282.71" y1="188.54" x2="282.71" y2="217.53" stroke="#b4bcd6" stroke-width="0.85" opacity="0.25"/>
<line x1="281.81" y1="188.54" x2="283.61" y2="188.54" stroke="#c48a9f" stroke-width="0.7"/>
<line x1="281.81" y1="217.53" x2="283.61" y2="217.53" stroke="#c48a9f" stroke-width="0.7"/>
<line x1="295.16" y1="189.13" x2="295.16" y2="223.31" stroke="#b4bcd6" stroke-width="0.85" opacity="0.25"/>
<line x1="294.26" y1="189.13" x2="296.06" y2="189.13" stroke="#c48a9f" stroke-width="0.7"/>
<line x1="294.26" y1="223.31" x2="296.06" y2="223.31" stroke="#c48a9f" stroke-width="0.7"/>
<line x1="307.60" y1="190.32" x2="307.60" y2="228.17" stroke="#b4bcd6" stroke-width="0.85" opacity="0.25"/>
<line x1="306.70" y1="190.32" x2="308.50" y2="190.32" stroke="#c48a9f" stroke-width="0.7"/>
<line x1="306.70" y1="228.17" x2="308.50" y2="228.17" stroke="#c48a9f" stroke-width="0.7"/>
<line x1="195.60" y1="164.23" x2="195.60" y2="200.85" stroke="#eb9db3" stroke-width="0.85" opacity="0.6"/>
<line x1="194.70" y1="164.23" x2="196.50" y2="164.23" stroke="#c48a9f" stroke-width="0.7"/>
<line x1="194.70" y1="200.85" x2="196.50" y2="200.85" stroke="#c48a9f" stroke-width="0.7"/>
<line x1="208.04" y1="168.81" x2="208.04" y2="204.67" stroke="#eb9db3" stroke-width="0.85" opacity="0.75"/>
<line x1="207.14" y1="168.81" x2="208.94" y2="168.81" stroke="#c48a9f" stroke-width="0.7"/>
<line x1="207.14" y1="204.67" x2="208.94" y2="204.67" stroke="#c48a9f" stroke-width="0.7"/>
<line x1="220.49" y1="172.62" x2="220.49" y2="206.96" stroke="#eb9db3" stroke-width="0.85" opacity="0.6"/>
<line x1="219.59" y1="172.62" x2="221.39" y2="172.62" stroke="#c48a9f" stroke-width="0.7"/>
<line x1="219.59" y1="206.96" x2="221.39" y2="206.96" stroke="#c48a9f" stroke-width="0.7"/>
<line x1="232.93" y1="175.68" x2="232.93" y2="209.25" stroke="#eb9db3" stroke-width="0.85" opacity="0.85"/>
<line x1="232.03" y1="175.68" x2="233.83" y2="175.68" stroke="#c48a9f" stroke-width="0.7"/>
<line x1="232.03" y1="209.25" x2="233.83" y2="209.25" stroke="#c48a9f" stroke-width="0.7"/>
<line x1="245.38" y1="178.73" x2="245.38" y2="212.30" stroke="#eb9db3" stroke-width="0.85" opacity="0.6"/>
<line x1="244.48" y1="178.73" x2="246.28" y2="178.73" stroke="#c48a9f" stroke-width="0.7"/>
<line x1="244.48" y1="212.30" x2="246.28" y2="212.30" stroke="#c48a9f" stroke-width="0.7"/>
<line x1="257.82" y1="180.25" x2="257.82" y2="213.82" stroke="#eb9db3" stroke-width="0.85" opacity="0.75"/>
<line x1="256.92" y1="180.25" x2="258.72" y2="180.25" stroke="#c48a9f" stroke-width="0.7"/>
<line x1="256.92" y1="213.82" x2="258.72" y2="213.82" stroke="#c48a9f" stroke-width="0.7"/>
<line x1="270.27" y1="184.07" x2="270.27" y2="217.64" stroke="#eb9db3" stroke-width="0.85" opacity="0.85"/>
<line x1="269.37" y1="184.07" x2="271.17" y2="184.07" stroke="#c48a9f" stroke-width="0.7"/>
<line x1="269.37" y1="217.64" x2="271.17" y2="217.64" stroke="#c48a9f" stroke-width="0.7"/>
<line x1="282.71" y1="184.83" x2="282.71" y2="221.07" stroke="#eb9db3" stroke-width="0.85" opacity="0.6"/>
<line x1="281.81" y1="184.83" x2="283.61" y2="184.83" stroke="#c48a9f" stroke-width="0.7"/>
<line x1="281.81" y1="221.07" x2="283.61" y2="221.07" stroke="#c48a9f" stroke-width="0.7"/>
<line x1="295.16" y1="184.83" x2="295.16" y2="227.56" stroke="#eb9db3" stroke-width="0.85" opacity="0.85"/>
<line x1="294.26" y1="184.83" x2="296.06" y2="184.83" stroke="#c48a9f" stroke-width="0.7"/>
<line x1="294.26" y1="227.56" x2="296.06" y2="227.56" stroke="#c48a9f" stroke-width="0.7"/>
<line x1="307.60" y1="185.59" x2="307.60" y2="232.90" stroke="#eb9db3" stroke-width="0.85" opacity="0.85"/>
<line x1="306.70" y1="185.59" x2="308.50" y2="185.59" stroke="#c48a9f" stroke-width="0.7"/>
<line x1="306.70" y1="232.90" x2="308.50" y2="232.90" stroke="#c48a9f" stroke-width="0.7"/>
<line x1="193.2" y1="155" x2="193.2" y2="235.9" stroke="#a8a8a8" stroke-width="1.0"/>
<line x1="193.2" y1="235.4" x2="309.2" y2="235.4" stroke="#bdbdbd" stroke-width="1.2"/>
<text x="191.0" y="158.80" text-anchor="end" font-family='"Liberation Sans", sans-serif' font-size="5.0" fill="#262626" stroke="#262626" stroke-width="0.14">1</text>
<line x1="191.7" y1="156.60" x2="193.2" y2="156.60" stroke="#8f8f8f" stroke-width="0.6"/>
<text x="191.0" y="174.06" text-anchor="end" font-family='"Liberation Sans", sans-serif' font-size="5.0" fill="#262626" stroke="#262626" stroke-width="0.14">.8</text>
<line x1="191.7" y1="171.86" x2="193.2" y2="171.86" stroke="#8f8f8f" stroke-width="0.6"/>
<text x="191.0" y="189.32" text-anchor="end" font-family='"Liberation Sans", sans-serif' font-size="5.0" fill="#262626" stroke="#262626" stroke-width="0.14">.6</text>
<line x1="191.7" y1="187.12" x2="193.2" y2="187.12" stroke="#8f8f8f" stroke-width="0.6"/>
<text x="191.0" y="204.58" text-anchor="end" font-family='"Liberation Sans", sans-serif' font-size="5.0" fill="#262626" stroke="#262626" stroke-width="0.14">.4</text>
<line x1="191.7" y1="202.38" x2="193.2" y2="202.38" stroke="#8f8f8f" stroke-width="0.6"/>
<text x="191.0" y="219.84" text-anchor="end" font-family='"Liberation Sans", sans-serif' font-size="5.0" fill="#262626" stroke="#262626" stroke-width="0.14">.2</text>
<line x1="191.7" y1="217.64" x2="193.2" y2="217.64" stroke="#8f8f8f" stroke-width="0.6"/>
<text x="191.0" y="235.10" text-anchor="end" font-family='"Liberation Sans", sans-serif' font-size="5.0" fill="#262626" stroke="#262626" stroke-width="0.14">0</text>
<line x1="191.7" y1="232.90" x2="193.2" y2="232.90" stroke="#8f8f8f" stroke-width="0.6"/>
<text x="195.60" y="241.8" text-anchor="middle" font-family='"Liberation Sans", sans-serif' font-size="5.0" fill="#262626" stroke="#262626" stroke-width="0.14">1</text>
<line x1="195.60" y1="235.4" x2="195.60" y2="236.9" stroke="#8f8f8f" stroke-width="0.6"/>
<text x="208.04" y="241.8" text-anchor="middle" font-family='"Liberation Sans", sans-serif' font-size="5.0" fill="#262626" stroke="#262626" stroke-width="0.14">2</text>
<line x1="208.04" y1="235.4" x2="208.04" y2="236.9" stroke="#8f8f8f" stroke-width="0.6"/>
<text x="220.49" y="241.8" text-anchor="middle" font-family='"Liberation Sans", sans-serif' font-size="5.0" fill="#262626" stroke="#262626" stroke-width="0.14">3</text>
<line x1="220.49" y1="235.4" x2="220.49" y2="236.9" stroke="#8f8f8f" stroke-width="0.6"/>
<text x="232.93" y="241.8" text-anchor="middle" font-family='"Liberation Sans", sans-serif' font-size="5.0" fill="#262626" stroke="#262626" stroke-width="0.14">4</text>
<line x1="232.93" y1="235.4" x2="232.93" y2="236.9" stroke="#8f8f8f" stroke-width="0.6"/>
<text x="245.38" y="241.8" text-anchor="middle" font-family='"Liberation Sans", sans-serif' font-size="5.0" fill="#262626" stroke="#262626" stroke-width="0.14">5</text>
<line x1="245.38" y1="235.4" x2="245.38" y2="236.9" stroke="#8f8f8f" stroke-width="0.6"/>
<text x="257.82" y="241.8" text-anchor="middle" font-family='"Liberation Sans", sans-serif' font-size="5.0" fill="#262626" stroke="#262626" stroke-width="0.14">6</text>
<line x1="257.82" y1="235.4" x2="257.82" y2="236.9" stroke="#8f8f8f" stroke-width="0.6"/>
<text x="270.27" y="241.8" text-anchor="middle" font-family='"Liberation Sans", sans-serif' font-size="5.0" fill="#262626" stroke="#262626" stroke-width="0.14">7</text>
<line x1="270.27" y1="235.4" x2="270.27" y2="236.9" stroke="#8f8f8f" stroke-width="0.6"/>
<text x="282.71" y="241.8" text-anchor="middle" font-family='"Liberation Sans", sans-serif' font-size="5.0" fill="#262626" stroke="#262626" stroke-width="0.14">8</text>
<line x1="282.71" y1="235.4" x2="282.71" y2="236.9" stroke="#8f8f8f" stroke-width="0.6"/>
<text x="295.16" y="241.8" text-anchor="middle" font-family='"Liberation Sans", sans-serif' font-size="5.0" fill="#262626" stroke="#262626" stroke-width="0.14">9</text>
<line x1="295.16" y1="235.4" x2="295.16" y2="236.9" stroke="#8f8f8f" stroke-width="0.6"/>
<text x="307.60" y="241.8" text-anchor="middle" font-family='"Liberation Sans", sans-serif' font-size="5.0" fill="#262626" stroke="#262626" stroke-width="0.14">10</text>
<line x1="307.60" y1="235.4" x2="307.60" y2="236.9" stroke="#8f8f8f" stroke-width="0.6"/>
<text x="251.3" y="248.1" text-anchor="middle" font-family='"Liberation Sans", sans-serif' font-size="4.89" fill="#262626" stroke="#262626" stroke-width="0.14">Executive branch corruption, in deciles</text>
<text transform="translate(184.0,195.2) rotate(-90)" text-anchor="middle" font-family='"Liberation Sans", sans-serif' font-size="3.6" fill="#262626" stroke="#262626" stroke-width="0.14">Linear prediction</text>
<polyline points="195.60,184.45 208.04,187.20 220.49,189.96 232.93,192.72 245.38,195.47 257.82,198.23 270.27,200.98 282.71,203.74 295.16,206.49 307.60,209.25" fill="none" stroke="#34498c" stroke-width="1.0" stroke-dasharray="1.8,1.4"/>
<polyline points="195.60,182.77 208.04,185.71 220.49,188.65 232.93,191.60 245.38,194.54 257.82,197.48 270.27,200.42 282.71,203.36 295.16,206.31 307.60,209.25" fill="none" stroke="#c23c62" stroke-width="1.25" opacity="1"/>
<line x1="312.1" y1="192.1" x2="320.4" y2="192.1" stroke="#34498c" stroke-width="0.9" stroke-dasharray="1.5,1.3" opacity="0.8"/>
<text x="322.7" y="193.9" font-family='"Liberation Sans", sans-serif' font-size="4.92" fill="#262626" stroke="#262626" stroke-width="0.14">Male</text>
<line x1="312.1" y1="198.2" x2="320.4" y2="198.2" stroke="#c23c62" stroke-width="1.1" opacity="0.85"/>
<text x="322.7" y="200.0" font-family='"Liberation Sans", sans-serif' font-size="4.92" fill="#262626" stroke="#262626" stroke-width="0.14">Female</text>
<text x="180.3" y="269.7" font-family='"Liberation Serif", serif' font-size="8.42" fill="#111" stroke="#111" stroke-width="0.24">f. Female and domestic conflict index</text>
<line x1="195.0" y1="284.80" x2="313.5" y2="284.80" stroke="#f4f4f4" stroke-width="0.7"/>
<line x1="195.0" y1="304.65" x2="313.5" y2="304.65" stroke="#f4f4f4" stroke-width="0.7"/>
<line x1="195.0" y1="324.50" x2="313.5" y2="324.50" stroke="#f4f4f4" stroke-width="0.7"/>
<line x1="195.0" y1="344.35" x2="313.5" y2="344.35" stroke="#f4f4f4" stroke-width="0.7"/>
<line x1="195.0" y1="364.20" x2="313.5" y2="364.20" stroke="#f4f4f4" stroke-width="0.7"/>
<line x1="196.50" y1="284" x2="196.50" y2="365.3" stroke="#f4f4f4" stroke-width="0.7"/>
<line x1="209.33" y1="284" x2="209.33" y2="365.3" stroke="#f4f4f4" stroke-width="0.7"/>
<line x1="222.17" y1="284" x2="222.17" y2="365.3" stroke="#f4f4f4" stroke-width="0.7"/>
<line x1="235.00" y1="284" x2="235.00" y2="365.3" stroke="#f4f4f4" stroke-width="0.7"/>
<line x1="247.83" y1="284" x2="247.83" y2="365.3" stroke="#f4f4f4" stroke-width="0.7"/>
<line x1="260.67" y1="284" x2="260.67" y2="365.3" stroke="#f4f4f4" stroke-width="0.7"/>
<line x1="273.50" y1="284" x2="273.50" y2="365.3" stroke="#f4f4f4" stroke-width="0.7"/>
<line x1="286.33" y1="284" x2="286.33" y2="365.3" stroke="#f4f4f4" stroke-width="0.7"/>
<line x1="299.17" y1="284" x2="299.17" y2="365.3" stroke="#f4f4f4" stroke-width="0.7"/>
<line x1="312.00" y1="284" x2="312.00" y2="365.3" stroke="#f4f4f4" stroke-width="0.7"/>
<line x1="196.50" y1="298.69" x2="196.50" y2="344.85" stroke="#b4bcd6" stroke-width="0.85" opacity="0.6"/>
<line x1="195.60" y1="298.69" x2="197.40" y2="298.69" stroke="#c48a9f" stroke-width="0.7"/>
<line x1="195.60" y1="344.85" x2="197.40" y2="344.85" stroke="#c48a9f" stroke-width="0.7"/>
<line x1="209.33" y1="300.68" x2="209.33" y2="342.37" stroke="#b4bcd6" stroke-width="0.85" opacity="0.6"/>
<line x1="208.43" y1="300.68" x2="210.23" y2="300.68" stroke="#c48a9f" stroke-width="0.7"/>
<line x1="208.43" y1="342.37" x2="210.23" y2="342.37" stroke="#c48a9f" stroke-width="0.7"/>
<line x1="222.17" y1="301.67" x2="222.17" y2="343.36" stroke="#b4bcd6" stroke-width="0.85" opacity="1"/>
<line x1="221.27" y1="301.67" x2="223.07" y2="301.67" stroke="#c48a9f" stroke-width="0.7"/>
<line x1="221.27" y1="343.36" x2="223.07" y2="343.36" stroke="#c48a9f" stroke-width="0.7"/>
<line x1="235.00" y1="302.67" x2="235.00" y2="345.34" stroke="#b4bcd6" stroke-width="0.85" opacity="0.8"/>
<line x1="234.10" y1="302.67" x2="235.90" y2="302.67" stroke="#c48a9f" stroke-width="0.7"/>
<line x1="234.10" y1="345.34" x2="235.90" y2="345.34" stroke="#c48a9f" stroke-width="0.7"/>
<line x1="247.83" y1="303.66" x2="247.83" y2="345.84" stroke="#b4bcd6" stroke-width="0.85" opacity="0.8"/>
<line x1="246.93" y1="303.66" x2="248.73" y2="303.66" stroke="#c48a9f" stroke-width="0.7"/>
<line x1="246.93" y1="345.84" x2="248.73" y2="345.84" stroke="#c48a9f" stroke-width="0.7"/>
<line x1="260.67" y1="304.65" x2="260.67" y2="348.32" stroke="#b4bcd6" stroke-width="0.85" opacity="0.8"/>
<line x1="259.77" y1="304.65" x2="261.57" y2="304.65" stroke="#c48a9f" stroke-width="0.7"/>
<line x1="259.77" y1="348.32" x2="261.57" y2="348.32" stroke="#c48a9f" stroke-width="0.7"/>
<line x1="273.50" y1="305.64" x2="273.50" y2="348.82" stroke="#b4bcd6" stroke-width="0.85" opacity="1"/>
<line x1="272.60" y1="305.64" x2="274.40" y2="305.64" stroke="#c48a9f" stroke-width="0.7"/>
<line x1="272.60" y1="348.82" x2="274.40" y2="348.82" stroke="#c48a9f" stroke-width="0.7"/>
<line x1="286.33" y1="306.63" x2="286.33" y2="350.31" stroke="#b4bcd6" stroke-width="0.85" opacity="0.6"/>
<line x1="285.43" y1="306.63" x2="287.23" y2="306.63" stroke="#c48a9f" stroke-width="0.7"/>
<line x1="285.43" y1="350.31" x2="287.23" y2="350.31" stroke="#c48a9f" stroke-width="0.7"/>
<line x1="299.17" y1="307.63" x2="299.17" y2="353.28" stroke="#b4bcd6" stroke-width="0.85" opacity="0.6"/>
<line x1="298.27" y1="307.63" x2="300.07" y2="307.63" stroke="#c48a9f" stroke-width="0.7"/>
<line x1="298.27" y1="353.28" x2="300.07" y2="353.28" stroke="#c48a9f" stroke-width="0.7"/>
<line x1="312.00" y1="308.62" x2="312.00" y2="353.28" stroke="#b4bcd6" stroke-width="0.85" opacity="1"/>
<line x1="311.10" y1="308.62" x2="312.90" y2="308.62" stroke="#c48a9f" stroke-width="0.7"/>
<line x1="311.10" y1="353.28" x2="312.90" y2="353.28" stroke="#c48a9f" stroke-width="0.7"/>
<line x1="196.50" y1="297.70" x2="196.50" y2="341.37" stroke="#eb9db3" stroke-width="0.85" opacity="0.7"/>
<line x1="195.60" y1="297.70" x2="197.40" y2="297.70" stroke="#c48a9f" stroke-width="0.7"/>
<line x1="195.60" y1="341.37" x2="197.40" y2="341.37" stroke="#c48a9f" stroke-width="0.7"/>
<line x1="209.33" y1="299.69" x2="209.33" y2="340.38" stroke="#eb9db3" stroke-width="0.85" opacity="0.5"/>
<line x1="208.43" y1="299.69" x2="210.23" y2="299.69" stroke="#c48a9f" stroke-width="0.7"/>
<line x1="208.43" y1="340.38" x2="210.23" y2="340.38" stroke="#c48a9f" stroke-width="0.7"/>
<line x1="222.17" y1="300.68" x2="222.17" y2="339.39" stroke="#eb9db3" stroke-width="0.85" opacity="1"/>
<line x1="221.27" y1="300.68" x2="223.07" y2="300.68" stroke="#c48a9f" stroke-width="0.7"/>
<line x1="221.27" y1="339.39" x2="223.07" y2="339.39" stroke="#c48a9f" stroke-width="0.7"/>
<line x1="235.00" y1="300.68" x2="235.00" y2="338.39" stroke="#eb9db3" stroke-width="0.85" opacity="0.8"/>
<line x1="234.10" y1="300.68" x2="235.90" y2="300.68" stroke="#c48a9f" stroke-width="0.7"/>
<line x1="234.10" y1="338.39" x2="235.90" y2="338.39" stroke="#c48a9f" stroke-width="0.7"/>
<line x1="247.83" y1="300.68" x2="247.83" y2="337.40" stroke="#eb9db3" stroke-width="0.85" opacity="0.8"/>
<line x1="246.93" y1="300.68" x2="248.73" y2="300.68" stroke="#c48a9f" stroke-width="0.7"/>
<line x1="246.93" y1="337.40" x2="248.73" y2="337.40" stroke="#c48a9f" stroke-width="0.7"/>
<line x1="260.67" y1="299.69" x2="260.67" y2="336.41" stroke="#eb9db3" stroke-width="0.85" opacity="0.8"/>
<line x1="259.77" y1="299.69" x2="261.57" y2="299.69" stroke="#c48a9f" stroke-width="0.7"/>
<line x1="259.77" y1="336.41" x2="261.57" y2="336.41" stroke="#c48a9f" stroke-width="0.7"/>
<line x1="273.50" y1="297.70" x2="273.50" y2="335.42" stroke="#eb9db3" stroke-width="0.85" opacity="1"/>
<line x1="272.60" y1="297.70" x2="274.40" y2="297.70" stroke="#c48a9f" stroke-width="0.7"/>
<line x1="272.60" y1="335.42" x2="274.40" y2="335.42" stroke="#c48a9f" stroke-width="0.7"/>
<line x1="286.33" y1="294.73" x2="286.33" y2="335.42" stroke="#eb9db3" stroke-width="0.85" opacity="0.55"/>
<line x1="285.43" y1="294.73" x2="287.23" y2="294.73" stroke="#c48a9f" stroke-width="0.7"/>
<line x1="285.43" y1="335.42" x2="287.23" y2="335.42" stroke="#c48a9f" stroke-width="0.7"/>
<line x1="299.17" y1="291.75" x2="299.17" y2="336.41" stroke="#eb9db3" stroke-width="0.85" opacity="0.55"/>
<line x1="298.27" y1="291.75" x2="300.07" y2="291.75" stroke="#c48a9f" stroke-width="0.7"/>
<line x1="298.27" y1="336.41" x2="300.07" y2="336.41" stroke="#c48a9f" stroke-width="0.7"/>
<line x1="312.00" y1="288.77" x2="312.00" y2="336.41" stroke="#eb9db3" stroke-width="0.85" opacity="1"/>
<line x1="311.10" y1="288.77" x2="312.90" y2="288.77" stroke="#c48a9f" stroke-width="0.7"/>
<line x1="311.10" y1="336.41" x2="312.90" y2="336.41" stroke="#c48a9f" stroke-width="0.7"/>
<line x1="194.0" y1="282" x2="194.0" y2="366.8" stroke="#b4b4b4" stroke-width="1.5"/>
<line x1="194.0" y1="366.3" x2="313.5" y2="366.3" stroke="#bdbdbd" stroke-width="1.2"/>
<text x="191.8" y="287.00" text-anchor="end" font-family='"Liberation Sans", sans-serif' font-size="5.2" fill="#262626" stroke="#262626" stroke-width="0.14">.8</text>
<line x1="192.5" y1="284.80" x2="194.0" y2="284.80" stroke="#8f8f8f" stroke-width="0.6"/>
<text x="191.8" y="306.85" text-anchor="end" font-family='"Liberation Sans", sans-serif' font-size="5.2" fill="#262626" stroke="#262626" stroke-width="0.14">.6</text>
<line x1="192.5" y1="304.65" x2="194.0" y2="304.65" stroke="#8f8f8f" stroke-width="0.6"/>
<text x="191.8" y="326.70" text-anchor="end" font-family='"Liberation Sans", sans-serif' font-size="5.2" fill="#262626" stroke="#262626" stroke-width="0.14">.4</text>
<line x1="192.5" y1="324.50" x2="194.0" y2="324.50" stroke="#8f8f8f" stroke-width="0.6"/>
<text x="191.8" y="346.55" text-anchor="end" font-family='"Liberation Sans", sans-serif' font-size="5.2" fill="#262626" stroke="#262626" stroke-width="0.14">.2</text>
<line x1="192.5" y1="344.35" x2="194.0" y2="344.35" stroke="#8f8f8f" stroke-width="0.6"/>
<text x="191.8" y="366.40" text-anchor="end" font-family='"Liberation Sans", sans-serif' font-size="5.2" fill="#262626" stroke="#262626" stroke-width="0.14">0</text>
<line x1="192.5" y1="364.20" x2="194.0" y2="364.20" stroke="#8f8f8f" stroke-width="0.6"/>
<text x="196.50" y="373.3" text-anchor="middle" font-family='"Liberation Sans", sans-serif' font-size="5.2" fill="#262626" stroke="#262626" stroke-width="0.14">1</text>
<line x1="196.50" y1="366.3" x2="196.50" y2="367.8" stroke="#8f8f8f" stroke-width="0.6"/>
<text x="209.33" y="373.3" text-anchor="middle" font-family='"Liberation Sans", sans-serif' font-size="5.2" fill="#262626" stroke="#262626" stroke-width="0.14">2</text>
<line x1="209.33" y1="366.3" x2="209.33" y2="367.8" stroke="#8f8f8f" stroke-width="0.6"/>
<text x="222.17" y="373.3" text-anchor="middle" font-family='"Liberation Sans", sans-serif' font-size="5.2" fill="#262626" stroke="#262626" stroke-width="0.14">3</text>
<line x1="222.17" y1="366.3" x2="222.17" y2="367.8" stroke="#8f8f8f" stroke-width="0.6"/>
<text x="235.00" y="373.3" text-anchor="middle" font-family='"Liberation Sans", sans-serif' font-size="5.2" fill="#262626" stroke="#262626" stroke-width="0.14">4</text>
<line x1="235.00" y1="366.3" x2="235.00" y2="367.8" stroke="#8f8f8f" stroke-width="0.6"/>
<text x="247.83" y="373.3" text-anchor="middle" font-family='"Liberation Sans", sans-serif' font-size="5.2" fill="#262626" stroke="#262626" stroke-width="0.14">5</text>
<line x1="247.83" y1="366.3" x2="247.83" y2="367.8" stroke="#8f8f8f" stroke-width="0.6"/>
<text x="260.67" y="373.3" text-anchor="middle" font-family='"Liberation Sans", sans-serif' font-size="5.2" fill="#262626" stroke="#262626" stroke-width="0.14">6</text>
<line x1="260.67" y1="366.3" x2="260.67" y2="367.8" stroke="#8f8f8f" stroke-width="0.6"/>
<text x="273.50" y="373.3" text-anchor="middle" font-family='"Liberation Sans", sans-serif' font-size="5.2" fill="#262626" stroke="#262626" stroke-width="0.14">7</text>
<line x1="273.50" y1="366.3" x2="273.50" y2="367.8" stroke="#8f8f8f" stroke-width="0.6"/>
<text x="286.33" y="373.3" text-anchor="middle" font-family='"Liberation Sans", sans-serif' font-size="5.2" fill="#262626" stroke="#262626" stroke-width="0.14">8</text>
<line x1="286.33" y1="366.3" x2="286.33" y2="367.8" stroke="#8f8f8f" stroke-width="0.6"/>
<text x="299.17" y="373.3" text-anchor="middle" font-family='"Liberation Sans", sans-serif' font-size="5.2" fill="#262626" stroke="#262626" stroke-width="0.14">9</text>
<line x1="299.17" y1="366.3" x2="299.17" y2="367.8" stroke="#8f8f8f" stroke-width="0.6"/>
<text x="312.00" y="373.3" text-anchor="middle" font-family='"Liberation Sans", sans-serif' font-size="5.2" fill="#262626" stroke="#262626" stroke-width="0.14">10</text>
<line x1="312.00" y1="366.3" x2="312.00" y2="367.8" stroke="#8f8f8f" stroke-width="0.6"/>
<text x="253.3" y="379.3" text-anchor="middle" font-family='"Liberation Sans", sans-serif' font-size="5.1" fill="#262626" stroke="#262626" stroke-width="0.14">Domestic conflict index, in deciles</text>
<text transform="translate(184.0,324) rotate(-90)" text-anchor="middle" font-family='"Liberation Sans", sans-serif' font-size="3.6" fill="#262626" stroke="#262626" stroke-width="0.14">Linear prediction</text>
<polyline points="196.50,319.54 209.33,320.70 222.17,321.85 235.00,323.01 247.83,324.17 260.67,325.33 273.50,326.49 286.33,327.64 299.17,328.80 312.00,329.96" fill="none" stroke="#34498c" stroke-width="1.0" stroke-dasharray="1.8,1.4"/>
<polyline points="196.50,321.52 209.33,320.70 222.17,319.87 235.00,319.04 247.83,318.21 260.67,317.39 273.50,316.56 286.33,315.73 299.17,314.91 312.00,314.08" fill="none" stroke="#c23c62" stroke-width="1.25" opacity="1"/>
<line x1="316.8" y1="321.3" x2="324.9" y2="321.3" stroke="#34498c" stroke-width="0.9" stroke-dasharray="1.5,1.3" opacity="0.8"/>
<text x="327.8" y="323.1" font-family='"Liberation Sans", sans-serif' font-size="4.85" fill="#262626" stroke="#262626" stroke-width="0.14">Male</text>
<line x1="316.8" y1="327.8" x2="324.9" y2="327.8" stroke="#c23c62" stroke-width="1.1" opacity="0.85"/>
<text x="327.8" y="329.6" font-family='"Liberation Sans", sans-serif' font-size="4.85" fill="#262626" stroke="#262626" stroke-width="0.14">Female</text>
</svg></body></html>
